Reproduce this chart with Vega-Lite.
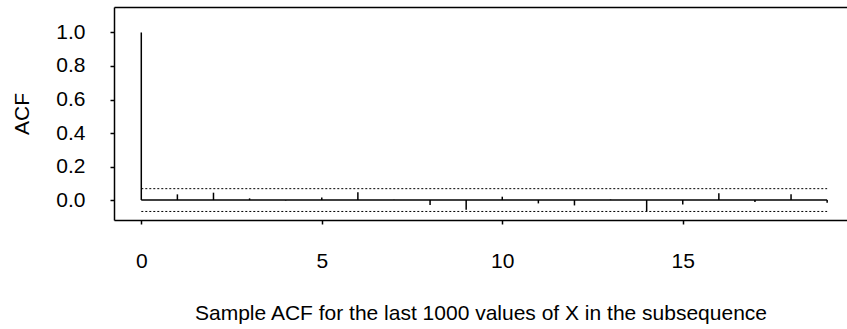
{
  "$schema": "https://vega.github.io/schema/vega-lite/v6.json",
  "autosize": {"type": "none"},
  "padding": {"left": 114, "top": 7, "right": 0, "bottom": 109},
  "width": 733,
  "height": 213,
  "background": "white",
  "config": {
    "view": {"stroke": null},
    "font": "Liberation Sans",
    "axis": {
      "labelFont": "Liberation Sans",
      "titleFont": "Liberation Sans",
      "labelColor": "black",
      "titleColor": "black",
      "domainColor": "black",
      "tickColor": "black",
      "grid": false,
      "titleFontWeight": "normal"
    }
  },
  "datasets": {
    "acf": [
      {"lag": 0, "acf": 1.0},
      {"lag": 1, "acf": 0.034},
      {"lag": 2, "acf": 0.044},
      {"lag": 3, "acf": 0.01},
      {"lag": 4, "acf": -0.003},
      {"lag": 5, "acf": 0.016},
      {"lag": 6, "acf": 0.046},
      {"lag": 7, "acf": 0.002},
      {"lag": 8, "acf": -0.03},
      {"lag": 9, "acf": -0.058},
      {"lag": 10, "acf": 0.02},
      {"lag": 11, "acf": -0.02},
      {"lag": 12, "acf": -0.032},
      {"lag": 13, "acf": 0.003},
      {"lag": 14, "acf": -0.067},
      {"lag": 15, "acf": -0.026},
      {"lag": 16, "acf": 0.04},
      {"lag": 17, "acf": -0.012},
      {"lag": 18, "acf": 0.034},
      {"lag": 19, "acf": -0.016}
    ],
    "bands": [
      {"from": 0, "to": 19, "level": 0.068},
      {"from": 0, "to": 19, "level": -0.068}
    ],
    "base": [
      {"from": 0, "to": 19, "level": 0}
    ]
  },
  "resolve": {"axis": {"x": "independent"}},
  "layer": [
    {
      "data": {"name": "acf"},
      "mark": {"type": "rule", "color": "black", "strokeWidth": 1.5},
      "encoding": {
        "x": {
          "field": "lag", "type": "quantitative",
          "scale": {"domain": [-0.756, 19.55], "nice": false, "zero": false},
          "axis": {
            "orient": "bottom",
            "title": "Sample ACF for the last 1000 values of X in the subsequence",
            "values": [0, 5, 10, 15],
            "format": "d",
            "tickSize": 4,
            "tickWidth": 1.5,
            "domainWidth": 1.5,
            "labelFontSize": 21,
            "labelPadding": 26,
            "titleFontSize": 21,
            "titlePadding": 31
          }
        },
        "y": {
          "field": "acf", "type": "quantitative",
          "scale": {"domain": [-0.119, 1.152], "nice": false, "zero": false},
          "axis": {
            "title": "ACF",
            "values": [0, 0.2, 0.4, 0.6, 0.8, 1.0],
            "format": ".1f",
            "tickSize": 4,
            "tickWidth": 1.5,
            "domainWidth": 1.5,
            "labelFontSize": 21,
            "labelPadding": 25,
            "titleFontSize": 21,
            "titlePadding": 23
          }
        },
        "y2": {"datum": 0}
      }
    },
    {
      "data": {"name": "base"},
      "mark": {"type": "rule", "color": "black", "strokeWidth": 1.5},
      "encoding": {
        "x": {"field": "from", "type": "quantitative", "axis": {"orient": "top", "title": null, "labels": false, "ticks": false, "domainWidth": 1.5}},
        "x2": {"field": "to"},
        "y": {"field": "level", "type": "quantitative"}
      }
    },
    {
      "data": {"name": "bands"},
      "mark": {"type": "rule", "color": "black", "strokeWidth": 1, "strokeDash": [2, 2]},
      "encoding": {
        "x": {"field": "from", "type": "quantitative", "axis": null},
        "x2": {"field": "to"},
        "y": {"field": "level", "type": "quantitative"}
      }
    }
  ]
}
